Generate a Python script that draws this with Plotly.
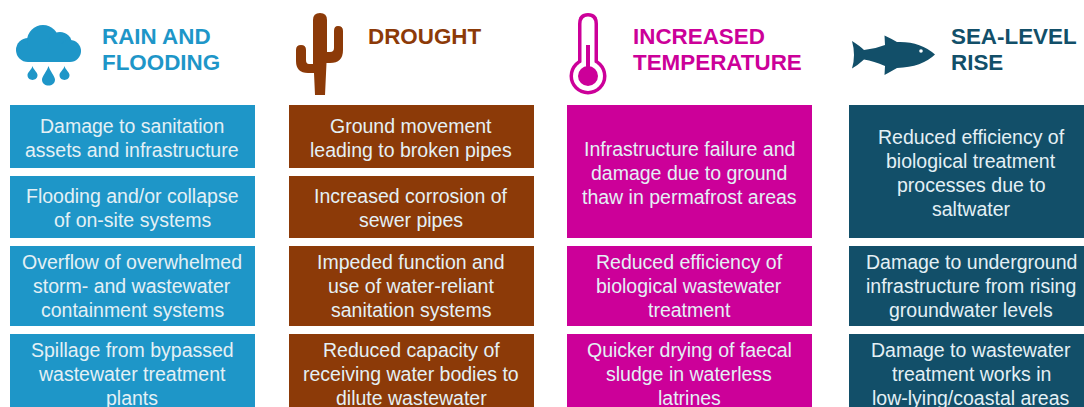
import plotly.graph_objects as go

# ---- content ----
titles = ["RAIN AND<br>FLOODING", "DROUGHT", "INCREASED<br>TEMPERATURE", "SEA-LEVEL<br>RISE"]
colors = ["#1E96C8", "#8C3A08", "#CC0099", "#124F69"]
rain = ["Damage to sanitation<br>assets and infrastructure",
        "Flooding and/or collapse<br>of on-site systems",
        "Overflow of overwhelmed<br>storm- and wastewater<br>containment systems",
        "Spillage from bypassed<br>wastewater treatment<br>plants"]
drought = ["Ground movement<br>leading to broken pipes",
           "Increased corrosion of<br>sewer pipes",
           "Impeded function and<br>use of water-reliant<br>sanitation systems",
           "Reduced capacity of<br>receiving water bodies to<br>dilute wastewater"]
temperature = ["Infrastructure failure and<br>damage due to ground<br>thaw in permafrost areas",
               "Reduced efficiency of<br>biological wastewater<br>treatment",
               "Quicker drying of faecal<br>sludge in waterless<br>latrines"]
sea_level = ["Reduced efficiency of<br>biological treatment<br>processes due to<br>saltwater",
             "Damage to underground<br>infrastructure from rising<br>groundwater levels",
             "Damage to wastewater<br>treatment works in<br>low-lying/coastal areas"]
columns = [rain, drought, temperature, sea_level]

# ---- layout geometry (the page is laid out on a pixel-sized axis) ----
W, H = 1084, 407
col_left = [10, 289, 567, 849]
col_width = 245
title_x = [100, 366, 631, 949]
title_y = 36.5
title_step = 26
line_step = 24
spans_four = [(105, 168), (176, 238), (246, 326), (334, 416)]
spans_three = [(105, 238), (246, 326), (334, 416)]
text_nudge = {105: 1.7, 176: 0.7, 246: 0.3, 334: -0.9}
TEXT = "#E4F0F5"
FONT = "Liberation Sans, Arial, sans-serif"

fig = go.Figure()
annotations = []
for left, color, items, tx, title in zip(col_left, colors, columns, title_x, titles):
    spans = spans_four if len(items) == 4 else spans_three
    mid = left + col_width / 2
    fig.add_trace(go.Bar(
        x=[mid] * len(items),
        base=[s[0] for s in spans],
        y=[s[1] - s[0] for s in spans],
        width=col_width,
        marker=dict(color=color, line=dict(width=0)),
        hoverinfo="skip",
        showlegend=False,
    ))
    for s, label in zip(spans, items):
        lines = label.split("<br>")
        centre = (s[0] + s[1]) / 2 + text_nudge[s[0]]
        for i, line in enumerate(lines):
            annotations.append(dict(x=mid - 0.5, y=centre + (i - (len(lines) - 1) / 2) * line_step,
                                    text=line, showarrow=False,
                                    xanchor="center", yanchor="middle", align="center",
                                    font=dict(family=FONT, size=19.5, color=TEXT)))
    for i, line in enumerate(title.split("<br>")):
        annotations.append(dict(x=tx, y=title_y + i * title_step, text="<b>" + line + "</b>", showarrow=False,
                                xanchor="left", yanchor="middle", align="left",
                                font=dict(family=FONT, size=22.4, color=color)))


def circle(cx, cy, r, color):
    return dict(type="circle", x0=cx - r, x1=cx + r, y0=cy - r, y1=cy + r,
                fillcolor=color, line=dict(width=0), layer="above")


def path(d, color):
    return dict(type="path", path=d, fillcolor=color, line=dict(width=0), layer="above")


def drop(cx, top, bottom, r, color):
    cy = bottom - r
    return path(f"M{cx},{top} C{cx+1},{top+4} {cx+r},{cy-3} {cx+r},{cy} "
                f"C{cx+r},{bottom+1.5} {cx-r},{bottom+1.5} {cx-r},{cy} "
                f"C{cx-r},{cy-3} {cx-1},{top+4} {cx},{top} Z", color)


shapes = []
# cloud
c = colors[0]
shapes += [circle(28, 50, 12, c), circle(43, 41, 16, c), circle(60, 44, 12, c), circle(70, 51, 11, c),
           dict(type="rect", x0=28, x1=70, y0=44, y1=62, fillcolor=c, line=dict(width=0), layer="above"),
           drop(32.5, 66, 80, 5, c), drop(48.5, 66, 86, 6.5, c), drop(64.5, 66, 80, 5, c)]
# cactus
c = colors[1]
shapes.append(path("M313,20 Q313,13 320,13 Q327,13 327,20 L327,52 L330,52 Q334,52 334,48 L334,31 "
                   "Q334,26 338,26 Q343,26 343,31 L343,50 Q343,63 330,63 L326.5,63 L325,95 L315,95 "
                   "L314,73 L308,73 Q296,73 296,61 L296,50 Q296,45 301,45 Q306,45 306,50 L306,60 "
                   "Q306,64 309,64 L313,64 Z", c))
# thermometer
c = colors[2]
shapes += [circle(588, 76, 18.5, c),
           path("M578,24 Q578,13 588,13 Q598,13 598,24 L598,70 L578,70 Z", c),
           circle(588, 76, 15, "#FFFFFF"),
           path("M581.5,24 Q581.5,16.5 588,16.5 Q594.5,16.5 594.5,24 L594.5,72 L581.5,72 Z", "#FFFFFF"),
           circle(588, 76, 10, c),
           dict(type="rect", x0=586, x1=590, y0=45, y1=72, fillcolor=c, line=dict(width=0), layer="above")]
# fish
c = colors[3]
shapes += [path("M852,41 Q860,46 864,50 Q875,49 885,45 L884.5,35.5 Q892,39 897,42 "
                "Q920,41 935,54.5 Q922,67 897,68 Q890,72 884.5,75 L885,66 Q874,61 864,59.5 "
                "Q858,65 852,68.5 Q856,55 852,41 Z", c),
           circle(921, 51, 1.8, "#FFFFFF")]

fig.update_layout(
    width=W, height=H,
    margin=dict(l=0, r=0, t=0, b=0),
    paper_bgcolor="#FFFFFF", plot_bgcolor="#FFFFFF",
    barmode="overlay",
    xaxis=dict(range=[0, W], visible=False, fixedrange=True),
    yaxis=dict(range=[H, 0], visible=False, fixedrange=True),
    annotations=annotations,
    shapes=shapes,
)
fig.write_html("out.html", config={"displayModeBar": False},
               post_script="document.body.style.margin='0';document.body.style.overflow='hidden';")
